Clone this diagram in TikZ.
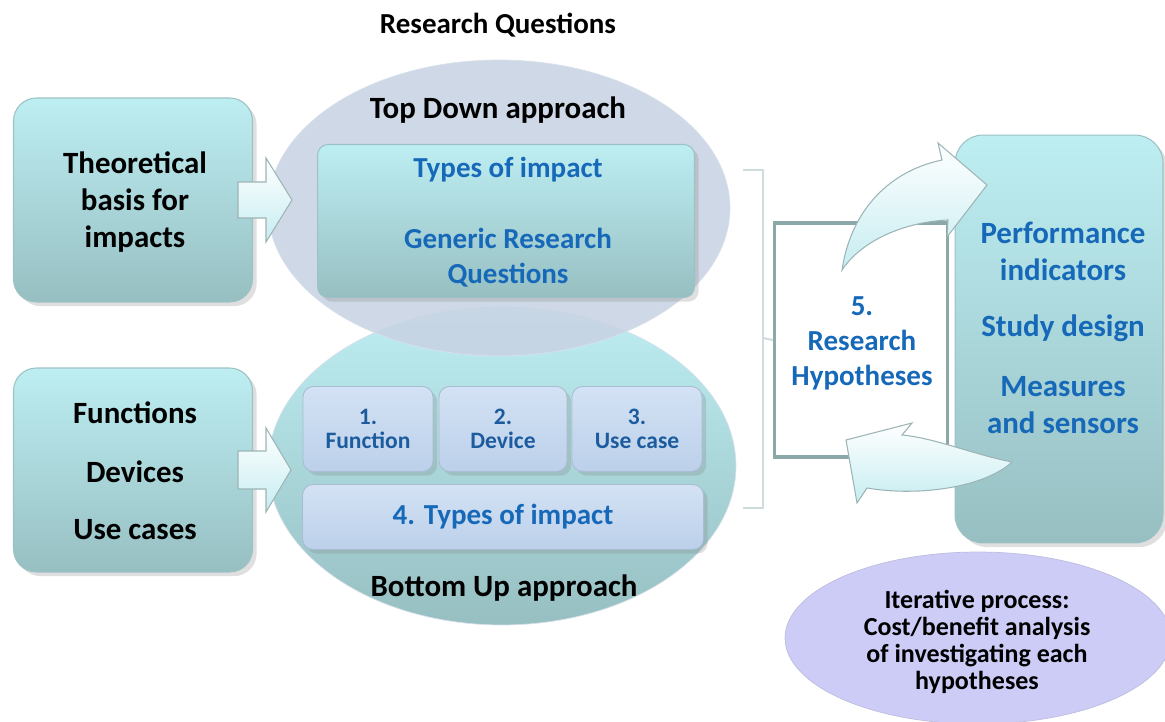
\documentclass[tikz,border=0pt]{standalone}
\usepackage{fontspec}
\setmainfont{Carlito}
\usetikzlibrary{shapes.geometric,shadows}

\definecolor{tealtop}{HTML}{BDEEF2}
\definecolor{tealbot}{HTML}{97BFC2}
\definecolor{tealline}{HTML}{9CC2C5}
\definecolor{ellgray}{HTML}{C8D3E3}
\definecolor{ellline}{HTML}{D8E0EA}
\definecolor{paletop}{HTML}{D3E2F4}
\definecolor{palebot}{HTML}{BCD0EA}
\definecolor{paleline}{HTML}{A9BCD4}
\definecolor{txtblue}{HTML}{1668B8}
\definecolor{darkblue}{HTML}{1C5C9E}
\definecolor{lavender}{HTML}{CCCCF7}
\definecolor{framecol}{HTML}{8DA8A9}
\definecolor{bracecol}{HTML}{CFDCDD}
\definecolor{arrowfill}{HTML}{C6EDF1}
\definecolor{arrowline}{HTML}{9DB4B6}

\begin{document}
\begin{tikzpicture}[x=0.02cm, y=-0.02cm,
    tealbox/.style={rectangle, rounded corners=13pt, draw=tealline, line width=0.6pt,
      top color=tealtop, bottom color=tealbot, drop shadow={opacity=0.25}},
    subbox/.style={rectangle, rounded corners=6pt, draw=paleline, line width=0.5pt,
      top color=paletop, bottom color=palebot, drop shadow={opacity=0.25}},
    blacktxt/.style={font=\bfseries\fontsize{17.6}{21}\selectfont, align=center},
    bluetxt/.style={text=txtblue, font=\bfseries\fontsize{16.5}{19.9}\selectfont, align=center},
    smalltxt/.style={text=darkblue, font=\bfseries\fontsize{13.4}{13.7}\selectfont, align=center},
    blockarrow/.style={draw=arrowline, line width=0.6pt, top color=white, bottom color=arrowfill}]

    \useasboundingbox (0,0) rectangle (1165,722);

    % Title
    \node[font=\bfseries\fontsize{16.5}{20}\selectfont] (title) at (498,25) {Research Questions};

    % Approach ellipses
    \node[ellipse, inner sep=0pt, minimum width=9.36cm, minimum height=6.36cm,
      draw=ellline, top color=tealtop, bottom color=tealbot] (bottomup) at (502,466) {};
    \node[ellipse, inner sep=0pt, minimum width=9.24cm, minimum height=5.92cm,
      draw=ellline, fill=ellgray, fill opacity=0.88] (topdown) at (499,208) {};
    \node[blacktxt] (tdlabel) at (498,110) {Top Down approach};
    \node[blacktxt] (bulabel) at (504,588) {Bottom Up approach};

    % Top down content
    \node[tealbox, rounded corners=6pt, minimum width=7.54cm, minimum height=3.06cm] (generic) at (506,221) {};
    \node[bluetxt] (types) at (508,170) {Types of impact};
    \node[bluetxt] (grq) at (508,258) {Generic Research\\Questions};

    % Bottom up content
    \node[subbox, minimum width=2.6cm, minimum height=1.7cm] (func) at (368,429) {};
    \node[subbox, minimum width=2.56cm, minimum height=1.7cm] (dev) at (503,429) {};
    \node[subbox, minimum width=2.6cm, minimum height=1.7cm] (use) at (637,429) {};
    \node[smalltxt] at (func) {1.\\Function};
    \node[smalltxt] at (dev) {2.\\Device};
    \node[smalltxt] at (use) {3.\\Use case};
    \node[subbox, minimum width=8.02cm, minimum height=1.3cm] (impact) at (503,517) {};
    \node[bluetxt] at (impact) {4. Types of impact};

    % Left inputs
    \node[tealbox, minimum width=4.78cm, minimum height=4.08cm] (theory) at (133,200) {};
    \node[blacktxt] at (135,202) {Theoretical\\basis for\\impacts};
    \node[tealbox, minimum width=4.78cm, minimum height=4.08cm] (inputs) at (133,470) {};
    \node[blacktxt] (functions) at (135,413) {Functions};
    \node[blacktxt] (devices) at (135,472) {Devices};
    \node[blacktxt] (usecases) at (135,530) {Use cases};

    % Block arrows into the ellipses
    \draw[blockarrow] (238,182) -- (266,182) -- (266,158) -- (292,200) -- (266,242)
      -- (266,218) -- (238,218) -- cycle;
    \draw[blockarrow] (238,451) -- (266,451) -- (266,428) -- (291,470) -- (266,512)
      -- (266,489) -- (238,489) -- cycle;

    % Hypotheses
    \node[rectangle, draw=framecol, line width=2pt, fill=white,
      minimum width=3.46cm, minimum height=4.68cm] (hyp) at (861,340) {};
    \node[bluetxt] at (862,343) {5.\\Research\\Hypotheses};

    % Bracket from both approaches
    \coordinate (btop) at (743,170);
    \coordinate (bbot) at (743,508);
    \draw[bracecol, line width=1.2pt] (btop) -- (763,170) -- (763,508) -- (bbot);
    \draw[bracecol, line width=1.2pt] (763,338) -- (hyp.west);

    % Study set-up
    \node[tealbox, rounded corners=16pt, minimum width=4.16cm, minimum height=8.16cm] (setup) at (1059,339) {};
    \node[bluetxt, font=\bfseries\fontsize{17.6}{21}\selectfont] (perf) at (1063,251) {Performance\\indicators};
    \node[bluetxt, font=\bfseries\fontsize{17.6}{21}\selectfont] (design) at (1063,328) {Study design};
    \node[bluetxt, font=\bfseries\fontsize{17.6}{21}\selectfont] (measures) at (1063,405) {Measures\\and sensors};

    % Curved arrows
    \draw[blockarrow] (842,270) .. controls (850,215) and (885,172) .. (942,160) -- (938,143)
      -- (987,185) -- (947,237) -- (948,220) .. controls (905,222) and (862,240) .. cycle;
    \draw[blockarrow] (1012,462) .. controls (975,455) and (935,438) .. (902,435) -- (912,423)
      -- (846,440) -- (857,503) -- (867,488) .. controls (920,497) and (985,487) .. cycle;

    % Iteration note
    \node[ellipse, inner sep=0pt, minimum width=7.72cm, minimum height=3.44cm,
      fill=lavender, draw=lavender!80!gray] (iter) at (978,638) {};
    \node[font=\bfseries\fontsize{14.8}{15.4}\selectfont, align=center] at (977,642)
      {Iterative process:\\Cost/benefit analysis\\of investigating each\\hypotheses};
\end{tikzpicture}
\end{document}
